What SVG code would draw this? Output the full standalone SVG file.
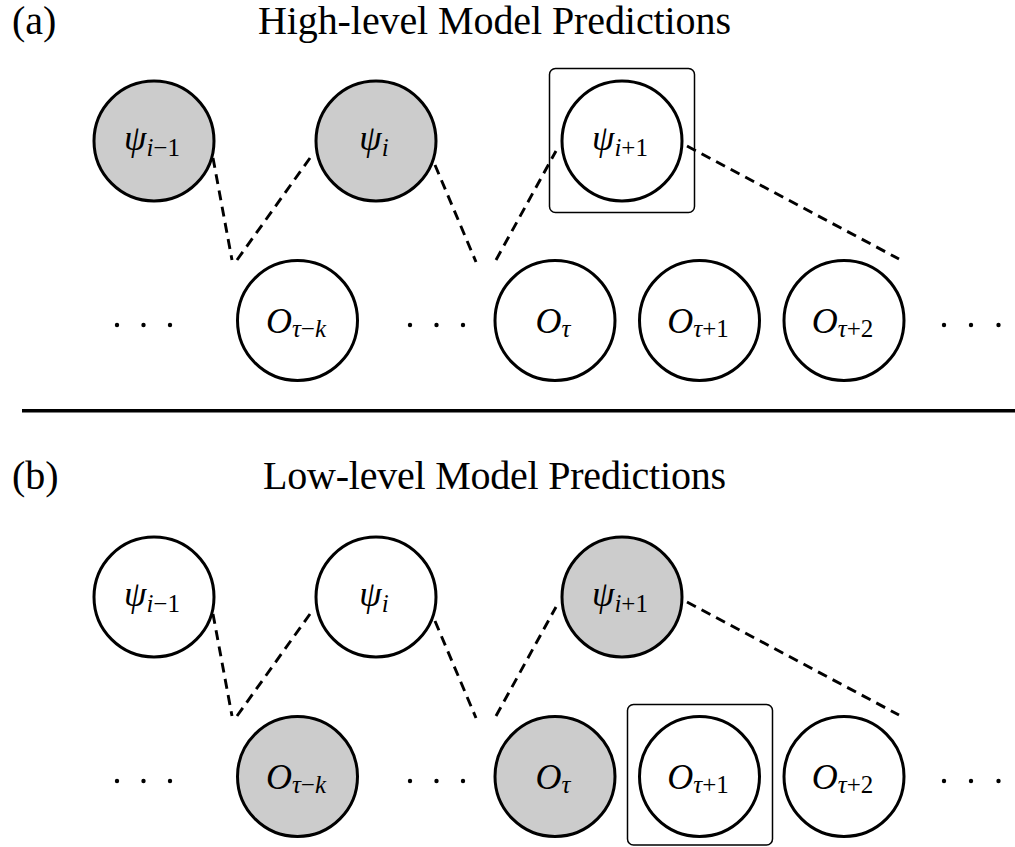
<svg xmlns="http://www.w3.org/2000/svg" width="1015" height="847" viewBox="0 0 1015 847">
  <style>
    .node { stroke: #000; stroke-width: 3; fill: #fff; }
    .node.obs { fill: #cccccc; }
    .frame { fill: none; stroke: #000; stroke-width: 1.5; }
    .edge { stroke: #000; stroke-width: 2.9; stroke-dasharray: 10 6.5; fill: none; }
    .dot { fill: #000; }
    text { font-family: 'Liberation Serif', 'DejaVu Serif', 'Times New Roman', serif; fill: #000; }
    .title { font-size: 40px; }
    .lbl { font-size: 36px; text-anchor: middle; }
    .mi { font-style: italic; }
    .sub { font-size: 25px; }
  </style>

  <!-- panel (a) -->
  <text class="title" x="12" y="34">(a)</text>
  <text class="title" x="258" y="34" textLength="473" lengthAdjust="spacing">High-level Model Predictions</text>

  <g id="a-connectors">
    <line class="edge" x1="213" y1="158" x2="232" y2="260"/>
    <line class="edge" x1="237" y1="260" x2="310" y2="158"/>
    <line class="edge" x1="435" y1="165" x2="476" y2="262"/>
    <line class="edge" x1="496" y1="260" x2="556" y2="151"/>
    <line class="edge" x1="687" y1="146" x2="899" y2="259"/>
  </g>

  <g id="a-psi-im1">
    <circle class="node obs" cx="154" cy="141" r="60"/>
    <text class="lbl" x="152" y="150"><tspan class="mi">ψ</tspan><tspan class="sub" dy="6"><tspan class="mi">i</tspan>−1</tspan></text>
  </g>
  <g id="a-psi-i">
    <circle class="node obs" cx="376" cy="141" r="60"/>
    <text class="lbl" x="374" y="150"><tspan class="mi">ψ</tspan><tspan class="sub mi" dy="6">i</tspan></text>
  </g>
  <g id="a-psi-ip1">
    <rect class="frame" x="549.5" y="68.5" width="145" height="144" rx="6"/>
    <circle class="node" cx="622" cy="141" r="60"/>
    <text class="lbl" x="620" y="150"><tspan class="mi">ψ</tspan><tspan class="sub" dy="6"><tspan class="mi">i</tspan>+1</tspan></text>
  </g>

  <g id="a-dots-left">
    <circle class="dot" cx="117" cy="325" r="2.2"/>
    <circle class="dot" cx="143.5" cy="325" r="2.2"/>
    <circle class="dot" cx="170" cy="325" r="2.2"/>
  </g>
  <g id="a-o-tk">
    <circle class="node" cx="297.5" cy="320.5" r="60"/>
    <text class="lbl" x="296" y="333"><tspan class="mi">O</tspan><tspan class="sub" dy="4"><tspan class="mi">τ</tspan>−<tspan class="mi">k</tspan></tspan></text>
  </g>
  <g id="a-dots-mid">
    <circle class="dot" cx="410" cy="325" r="2.2"/>
    <circle class="dot" cx="436.5" cy="325" r="2.2"/>
    <circle class="dot" cx="463" cy="325" r="2.2"/>
  </g>
  <g id="a-o-t">
    <circle class="node" cx="555" cy="320.5" r="60"/>
    <text class="lbl" x="553" y="333"><tspan class="mi">O</tspan><tspan class="sub mi" dy="4">τ</tspan></text>
  </g>
  <g id="a-o-tp1">
    <circle class="node" cx="699.5" cy="320.5" r="60"/>
    <text class="lbl" x="698" y="333"><tspan class="mi">O</tspan><tspan class="sub" dy="4"><tspan class="mi">τ</tspan>+1</tspan></text>
  </g>
  <g id="a-o-tp2">
    <circle class="node" cx="844" cy="320.5" r="60"/>
    <text class="lbl" x="842.5" y="333"><tspan class="mi">O</tspan><tspan class="sub" dy="4"><tspan class="mi">τ</tspan>+2</tspan></text>
  </g>
  <g id="a-dots-right">
    <circle class="dot" cx="944" cy="325" r="2.2"/>
    <circle class="dot" cx="971" cy="325" r="2.2"/>
    <circle class="dot" cx="998.5" cy="325" r="2.2"/>
  </g>

  <!-- separator -->
  <line x1="22" y1="410.7" x2="1015" y2="410.7" stroke="#000" stroke-width="3.6"/>

  <!-- panel (b) -->
  <text class="title" x="12" y="489">(b)</text>
  <text class="title" x="263" y="489" textLength="463" lengthAdjust="spacing">Low-level Model Predictions</text>

  <g id="b-connectors">
    <line class="edge" x1="213" y1="614" x2="232" y2="716"/>
    <line class="edge" x1="237" y1="716" x2="310" y2="614"/>
    <line class="edge" x1="435" y1="621" x2="476" y2="718"/>
    <line class="edge" x1="496" y1="716" x2="556" y2="607"/>
    <line class="edge" x1="687" y1="602" x2="899" y2="715"/>
  </g>

  <g id="b-psi-im1">
    <circle class="node" cx="154" cy="597" r="60"/>
    <text class="lbl" x="152" y="606"><tspan class="mi">ψ</tspan><tspan class="sub" dy="6"><tspan class="mi">i</tspan>−1</tspan></text>
  </g>
  <g id="b-psi-i">
    <circle class="node" cx="376" cy="597" r="60"/>
    <text class="lbl" x="374" y="606"><tspan class="mi">ψ</tspan><tspan class="sub mi" dy="6">i</tspan></text>
  </g>
  <g id="b-psi-ip1">
    <circle class="node obs" cx="622" cy="597" r="60"/>
    <text class="lbl" x="620" y="606"><tspan class="mi">ψ</tspan><tspan class="sub" dy="6"><tspan class="mi">i</tspan>+1</tspan></text>
  </g>

  <g id="b-dots-left">
    <circle class="dot" cx="117" cy="781" r="2.2"/>
    <circle class="dot" cx="143.5" cy="781" r="2.2"/>
    <circle class="dot" cx="170" cy="781" r="2.2"/>
  </g>
  <g id="b-o-tk">
    <circle class="node obs" cx="297.5" cy="776.5" r="60"/>
    <text class="lbl" x="296" y="789"><tspan class="mi">O</tspan><tspan class="sub" dy="4"><tspan class="mi">τ</tspan>−<tspan class="mi">k</tspan></tspan></text>
  </g>
  <g id="b-dots-mid">
    <circle class="dot" cx="410" cy="781" r="2.2"/>
    <circle class="dot" cx="436.5" cy="781" r="2.2"/>
    <circle class="dot" cx="463" cy="781" r="2.2"/>
  </g>
  <g id="b-o-t">
    <circle class="node obs" cx="555" cy="776.5" r="60"/>
    <text class="lbl" x="553" y="789"><tspan class="mi">O</tspan><tspan class="sub mi" dy="4">τ</tspan></text>
  </g>
  <g id="b-o-tp1">
    <rect class="frame" x="627.5" y="704.5" width="145" height="140.5" rx="6"/>
    <circle class="node" cx="699.5" cy="776.5" r="60"/>
    <text class="lbl" x="698" y="789"><tspan class="mi">O</tspan><tspan class="sub" dy="4"><tspan class="mi">τ</tspan>+1</tspan></text>
  </g>
  <g id="b-o-tp2">
    <circle class="node" cx="844" cy="776.5" r="60"/>
    <text class="lbl" x="842.5" y="789"><tspan class="mi">O</tspan><tspan class="sub" dy="4"><tspan class="mi">τ</tspan>+2</tspan></text>
  </g>
  <g id="b-dots-right">
    <circle class="dot" cx="944" cy="781" r="2.2"/>
    <circle class="dot" cx="971" cy="781" r="2.2"/>
    <circle class="dot" cx="998.5" cy="781" r="2.2"/>
  </g>
</svg>
